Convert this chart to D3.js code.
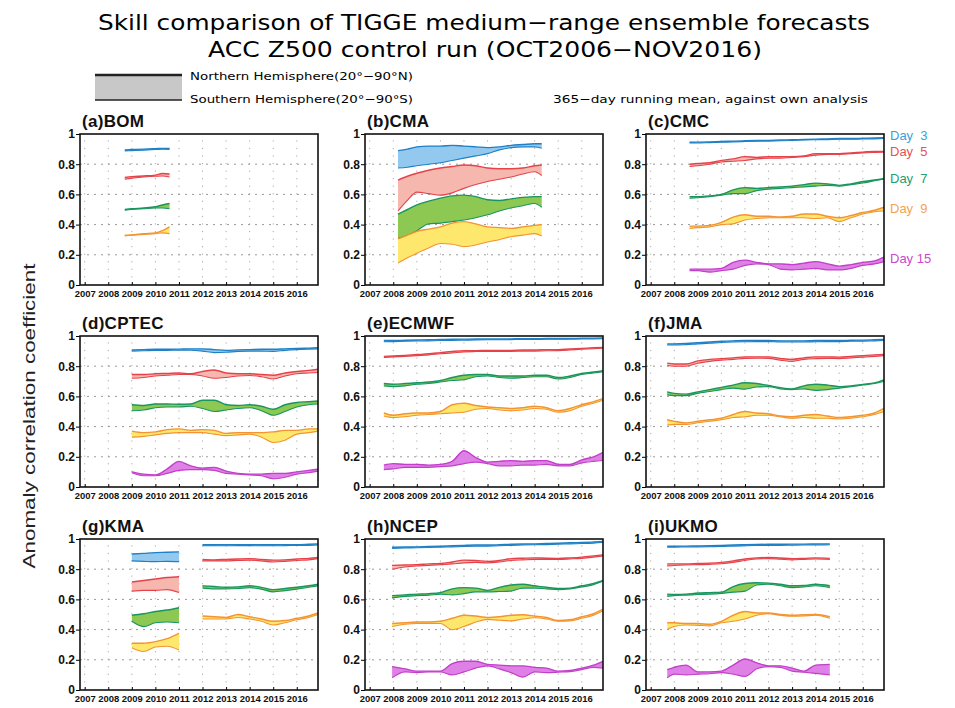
<!DOCTYPE html>
<html>
<head>
<meta charset="utf-8">
<script src="https://cdn.jsdelivr.net/npm/d3@7"></script>
<style>
body { margin: 0; background: #fff; }
</style>
</head>
<body>
<div id="chart"></div>
<script>

// ---- data (decimal years / ACC values) ----

var years = [2007, 2008, 2009, 2010, 2011, 2012, 2013, 2014, 2015, 2016];
var yTicks = [0, 0.2, 0.4, 0.6, 0.8, 1];
var dayList = [3, 5, 7, 9, 15];

var bomTimes = [2008.7, 2009.0, 2009.5, 2010.0, 2010.3, 2010.6];
var bomNH = [
	[0.895, 0.897, 0.900, 0.903, 0.905, 0.905],
	[0.712, 0.718, 0.722, 0.728, 0.738, 0.735],
	[0.500, 0.505, 0.510, 0.518, 0.530, 0.540],
	[0.330, 0.332, 0.340, 0.345, 0.360, 0.385]
];
var bomSH = [
	[0.888, 0.890, 0.893, 0.897, 0.900, 0.898],
	[0.700, 0.708, 0.715, 0.720, 0.722, 0.715],
	[0.495, 0.500, 0.505, 0.510, 0.510, 0.505],
	[0.325, 0.330, 0.335, 0.340, 0.345, 0.340]
];

var cmaTimes = [2008.2, 2008.6, 2009.0, 2009.5, 2010.0, 2010.5, 2011.0, 2011.5, 2012.0, 2012.5, 2013.0, 2013.5, 2014.0, 2014.3];
var cmaNH = [
	[0.890, 0.900, 0.915, 0.920, 0.920, 0.925, 0.920, 0.915, 0.910, 0.915, 0.925, 0.930, 0.935, 0.935],
	[0.695, 0.720, 0.740, 0.760, 0.775, 0.785, 0.795, 0.790, 0.775, 0.770, 0.770, 0.775, 0.790, 0.795],
	[0.470, 0.500, 0.530, 0.555, 0.575, 0.590, 0.595, 0.585, 0.565, 0.560, 0.570, 0.580, 0.585, 0.585],
	[0.305, 0.330, 0.355, 0.370, 0.385, 0.410, 0.420, 0.405, 0.385, 0.380, 0.375, 0.385, 0.395, 0.400]
];
var cmaSH = [
	[0.775, 0.780, 0.790, 0.800, 0.810, 0.825, 0.840, 0.855, 0.870, 0.895, 0.910, 0.915, 0.915, 0.905],
	[0.490, 0.560, 0.615, 0.605, 0.595, 0.610, 0.640, 0.665, 0.685, 0.700, 0.715, 0.735, 0.750, 0.725],
	[0.310, 0.330, 0.360, 0.405, 0.410, 0.420, 0.430, 0.445, 0.465, 0.490, 0.510, 0.525, 0.540, 0.515],
	[0.145, 0.180, 0.210, 0.245, 0.275, 0.270, 0.255, 0.265, 0.285, 0.300, 0.320, 0.330, 0.340, 0.325]
];

var cmcTimes = [2008.65, 2009.0, 2009.5, 2010.0, 2010.5, 2011.0, 2011.5, 2012.0, 2012.5, 2013.0, 2013.5, 2014.0, 2014.5, 2015.0, 2015.5, 2016.0, 2016.5, 2016.9];
var cmcNH = [
	[0.945, 0.946, 0.948, 0.950, 0.953, 0.955, 0.957, 0.958, 0.960, 0.962, 0.964, 0.966, 0.968, 0.970, 0.970, 0.972, 0.974, 0.975],
	[0.800, 0.805, 0.810, 0.825, 0.835, 0.850, 0.845, 0.850, 0.850, 0.850, 0.855, 0.870, 0.870, 0.870, 0.875, 0.880, 0.885, 0.885],
	[0.585, 0.585, 0.590, 0.600, 0.630, 0.645, 0.640, 0.645, 0.650, 0.655, 0.665, 0.675, 0.670, 0.660, 0.670, 0.685, 0.695, 0.705],
	[0.390, 0.390, 0.395, 0.415, 0.450, 0.465, 0.455, 0.455, 0.450, 0.455, 0.470, 0.470, 0.455, 0.445, 0.460, 0.480, 0.495, 0.515],
	[0.105, 0.105, 0.105, 0.110, 0.150, 0.165, 0.150, 0.140, 0.140, 0.135, 0.145, 0.155, 0.140, 0.125, 0.135, 0.150, 0.160, 0.185]
];
var cmcSH = [
	[0.940, 0.940, 0.943, 0.945, 0.948, 0.950, 0.952, 0.953, 0.955, 0.957, 0.960, 0.962, 0.963, 0.965, 0.965, 0.967, 0.968, 0.970],
	[0.785, 0.790, 0.800, 0.815, 0.820, 0.825, 0.835, 0.840, 0.840, 0.845, 0.850, 0.860, 0.865, 0.865, 0.870, 0.875, 0.878, 0.880],
	[0.575, 0.578, 0.585, 0.595, 0.605, 0.605, 0.625, 0.635, 0.640, 0.645, 0.650, 0.655, 0.660, 0.655, 0.665, 0.675, 0.690, 0.700],
	[0.375, 0.380, 0.385, 0.400, 0.405, 0.430, 0.440, 0.445, 0.445, 0.445, 0.445, 0.440, 0.445, 0.420, 0.445, 0.470, 0.485, 0.490],
	[0.095, 0.095, 0.085, 0.095, 0.105, 0.130, 0.140, 0.135, 0.105, 0.100, 0.105, 0.110, 0.100, 0.100, 0.110, 0.130, 0.140, 0.155]
];

var cptecTimes = [2009.0, 2009.5, 2010.0, 2010.5, 2011.0, 2011.5, 2012.0, 2012.5, 2013.0, 2013.5, 2014.0, 2014.5, 2015.0, 2015.5, 2016.0, 2016.5, 2016.9];
var cptecNH = [
	[0.908, 0.910, 0.912, 0.912, 0.913, 0.915, 0.915, 0.910, 0.905, 0.908, 0.910, 0.912, 0.912, 0.915, 0.918, 0.920, 0.922],
	[0.745, 0.745, 0.750, 0.752, 0.755, 0.750, 0.765, 0.775, 0.755, 0.750, 0.750, 0.745, 0.740, 0.755, 0.765, 0.772, 0.780],
	[0.545, 0.540, 0.550, 0.550, 0.548, 0.550, 0.575, 0.575, 0.545, 0.540, 0.545, 0.535, 0.515, 0.545, 0.560, 0.565, 0.570],
	[0.370, 0.360, 0.365, 0.380, 0.385, 0.375, 0.380, 0.375, 0.355, 0.360, 0.360, 0.360, 0.365, 0.375, 0.375, 0.385, 0.385],
	[0.100, 0.085, 0.080, 0.120, 0.170, 0.140, 0.125, 0.130, 0.105, 0.090, 0.085, 0.085, 0.090, 0.090, 0.100, 0.110, 0.118]
];
var cptecSH = [
	[0.900, 0.902, 0.905, 0.905, 0.906, 0.906, 0.900, 0.890, 0.892, 0.898, 0.900, 0.900, 0.898, 0.905, 0.910, 0.913, 0.915],
	[0.720, 0.725, 0.735, 0.740, 0.745, 0.745, 0.735, 0.720, 0.725, 0.735, 0.738, 0.730, 0.715, 0.735, 0.750, 0.755, 0.758],
	[0.505, 0.510, 0.525, 0.530, 0.530, 0.535, 0.520, 0.500, 0.510, 0.520, 0.525, 0.505, 0.475, 0.500, 0.530, 0.545, 0.550],
	[0.330, 0.335, 0.345, 0.355, 0.360, 0.360, 0.360, 0.350, 0.340, 0.345, 0.350, 0.330, 0.295, 0.310, 0.350, 0.360, 0.370],
	[0.095, 0.075, 0.075, 0.090, 0.110, 0.115, 0.115, 0.110, 0.090, 0.085, 0.080, 0.075, 0.055, 0.065, 0.085, 0.095, 0.105]
];

var ecmwfTimes = [2007.6, 2008.0, 2008.5, 2009.0, 2009.5, 2010.0, 2010.5, 2011.0, 2011.5, 2012.0, 2012.5, 2013.0, 2013.5, 2014.0, 2014.5, 2015.0, 2015.5, 2016.0, 2016.5, 2016.9];
var ecmwfNH = [
	[0.970, 0.970, 0.972, 0.974, 0.975, 0.977, 0.978, 0.979, 0.980, 0.980, 0.980, 0.981, 0.982, 0.982, 0.983, 0.983, 0.984, 0.985, 0.986, 0.987],
	[0.865, 0.868, 0.872, 0.877, 0.882, 0.890, 0.898, 0.903, 0.903, 0.905, 0.905, 0.905, 0.907, 0.907, 0.910, 0.910, 0.914, 0.918, 0.922, 0.925],
	[0.685, 0.680, 0.685, 0.690, 0.695, 0.705, 0.725, 0.740, 0.745, 0.745, 0.735, 0.735, 0.735, 0.740, 0.740, 0.725, 0.735, 0.752, 0.762, 0.770],
	[0.490, 0.475, 0.485, 0.490, 0.490, 0.500, 0.545, 0.555, 0.540, 0.530, 0.525, 0.520, 0.525, 0.535, 0.525, 0.505, 0.520, 0.545, 0.565, 0.585],
	[0.145, 0.155, 0.150, 0.150, 0.145, 0.150, 0.170, 0.240, 0.195, 0.165, 0.170, 0.175, 0.170, 0.175, 0.175, 0.150, 0.150, 0.180, 0.200, 0.230]
];
var ecmwfSH = [
	[0.962, 0.963, 0.965, 0.967, 0.968, 0.970, 0.971, 0.972, 0.974, 0.975, 0.975, 0.976, 0.977, 0.977, 0.978, 0.978, 0.979, 0.980, 0.981, 0.982],
	[0.858, 0.862, 0.865, 0.870, 0.875, 0.882, 0.888, 0.895, 0.897, 0.898, 0.898, 0.898, 0.900, 0.900, 0.902, 0.903, 0.907, 0.912, 0.916, 0.920],
	[0.670, 0.665, 0.670, 0.680, 0.685, 0.695, 0.705, 0.710, 0.730, 0.735, 0.725, 0.720, 0.725, 0.730, 0.730, 0.715, 0.725, 0.745, 0.755, 0.763],
	[0.470, 0.460, 0.465, 0.475, 0.480, 0.485, 0.490, 0.495, 0.515, 0.520, 0.510, 0.505, 0.510, 0.520, 0.515, 0.495, 0.505, 0.535, 0.555, 0.575],
	[0.115, 0.120, 0.130, 0.130, 0.130, 0.135, 0.140, 0.155, 0.165, 0.155, 0.140, 0.140, 0.145, 0.145, 0.150, 0.140, 0.140, 0.160, 0.170, 0.175]
];

var jmaTimes = [2007.7, 2008.0, 2008.5, 2009.0, 2009.5, 2010.0, 2010.5, 2011.0, 2011.5, 2012.0, 2012.5, 2013.0, 2013.5, 2014.0, 2014.5, 2015.0, 2015.5, 2016.0, 2016.5, 2016.9];
var jmaNH = [
	[0.948, 0.948, 0.950, 0.955, 0.960, 0.965, 0.968, 0.970, 0.970, 0.970, 0.968, 0.968, 0.968, 0.970, 0.970, 0.970, 0.972, 0.973, 0.975, 0.977],
	[0.820, 0.815, 0.815, 0.835, 0.845, 0.850, 0.855, 0.862, 0.862, 0.862, 0.852, 0.845, 0.855, 0.862, 0.862, 0.860, 0.865, 0.870, 0.875, 0.878],
	[0.630, 0.620, 0.615, 0.630, 0.645, 0.660, 0.675, 0.690, 0.685, 0.672, 0.658, 0.650, 0.670, 0.680, 0.675, 0.665, 0.670, 0.680, 0.690, 0.710],
	[0.445, 0.435, 0.425, 0.435, 0.445, 0.455, 0.480, 0.500, 0.490, 0.485, 0.470, 0.465, 0.475, 0.480, 0.470, 0.460, 0.465, 0.475, 0.490, 0.520]
];
var jmaSH = [
	[0.940, 0.940, 0.943, 0.948, 0.952, 0.957, 0.960, 0.962, 0.963, 0.963, 0.960, 0.960, 0.960, 0.962, 0.963, 0.963, 0.965, 0.966, 0.968, 0.970],
	[0.805, 0.800, 0.800, 0.820, 0.832, 0.840, 0.845, 0.852, 0.853, 0.852, 0.840, 0.832, 0.845, 0.850, 0.852, 0.850, 0.855, 0.860, 0.865, 0.870],
	[0.610, 0.605, 0.605, 0.620, 0.632, 0.645, 0.655, 0.648, 0.662, 0.665, 0.650, 0.645, 0.650, 0.640, 0.645, 0.655, 0.665, 0.675, 0.685, 0.700],
	[0.410, 0.415, 0.415, 0.425, 0.435, 0.445, 0.460, 0.465, 0.475, 0.475, 0.465, 0.455, 0.460, 0.455, 0.455, 0.450, 0.455, 0.465, 0.480, 0.500]
];

// KMA has a gap in 2011-2012 (null = no data)
var kmaTimes = [2009.0, 2009.5, 2010.0, 2010.5, 2011.0, 2011.5, 2012.0, 2012.5, 2013.0, 2013.5, 2014.0, 2014.5, 2015.0, 2015.5, 2016.0, 2016.5, 2016.9];
var kmaNH = [
	[0.900, 0.905, 0.910, 0.912, 0.915, null, 0.962, 0.962, 0.963, 0.963, 0.963, 0.962, 0.962, 0.963, 0.963, 0.965, 0.967],
	[0.715, 0.725, 0.735, 0.745, 0.750, null, 0.865, 0.862, 0.865, 0.868, 0.870, 0.865, 0.860, 0.862, 0.868, 0.872, 0.878],
	[0.495, 0.505, 0.520, 0.530, 0.545, null, 0.690, 0.685, 0.680, 0.683, 0.690, 0.680, 0.665, 0.672, 0.680, 0.690, 0.700],
	[0.310, 0.310, 0.320, 0.340, 0.375, null, 0.490, 0.485, 0.480, 0.500, 0.485, 0.470, 0.455, 0.460, 0.475, 0.490, 0.510]
];
var kmaSH = [
	[0.855, 0.852, 0.850, 0.852, 0.850, null, 0.955, 0.955, 0.955, 0.956, 0.956, 0.955, 0.955, 0.956, 0.957, 0.958, 0.960],
	[0.655, 0.660, 0.660, 0.665, 0.645, null, 0.855, 0.855, 0.855, 0.858, 0.860, 0.855, 0.848, 0.852, 0.858, 0.862, 0.870],
	[0.455, 0.420, 0.445, 0.450, 0.445, null, 0.675, 0.670, 0.670, 0.672, 0.678, 0.668, 0.650, 0.658, 0.668, 0.680, 0.690],
	[0.280, 0.255, 0.285, 0.290, 0.265, null, 0.470, 0.470, 0.470, 0.480, 0.470, 0.455, 0.430, 0.445, 0.465, 0.480, 0.500]
];

var ncepTimes = [2007.95, 2008.5, 2009.0, 2009.5, 2010.0, 2010.5, 2011.0, 2011.5, 2012.0, 2012.5, 2013.0, 2013.5, 2014.0, 2014.5, 2015.0, 2015.5, 2016.0, 2016.5, 2016.9];
var ncepNH = [
	[0.945, 0.947, 0.948, 0.950, 0.952, 0.955, 0.958, 0.960, 0.960, 0.962, 0.965, 0.967, 0.968, 0.970, 0.972, 0.975, 0.977, 0.980, 0.983],
	[0.825, 0.828, 0.830, 0.835, 0.838, 0.848, 0.860, 0.858, 0.852, 0.858, 0.870, 0.873, 0.875, 0.873, 0.872, 0.875, 0.880, 0.888, 0.895],
	[0.625, 0.630, 0.635, 0.638, 0.645, 0.670, 0.678, 0.675, 0.660, 0.680, 0.695, 0.700, 0.690, 0.680, 0.672, 0.675, 0.690, 0.705, 0.725],
	[0.440, 0.445, 0.450, 0.450, 0.455, 0.475, 0.495, 0.490, 0.480, 0.485, 0.495, 0.498, 0.490, 0.480, 0.460, 0.465, 0.485, 0.505, 0.535],
	[0.155, 0.140, 0.125, 0.125, 0.125, 0.175, 0.190, 0.190, 0.170, 0.165, 0.160, 0.160, 0.150, 0.145, 0.125, 0.130, 0.145, 0.165, 0.190]
];
var ncepSH = [
	[0.938, 0.940, 0.942, 0.944, 0.946, 0.948, 0.950, 0.952, 0.953, 0.955, 0.958, 0.960, 0.962, 0.963, 0.965, 0.968, 0.970, 0.973, 0.977],
	[0.800, 0.815, 0.822, 0.825, 0.830, 0.835, 0.842, 0.845, 0.842, 0.848, 0.858, 0.862, 0.865, 0.865, 0.865, 0.868, 0.872, 0.880, 0.888],
	[0.610, 0.620, 0.625, 0.628, 0.635, 0.630, 0.638, 0.650, 0.650, 0.652, 0.655, 0.675, 0.675, 0.670, 0.665, 0.670, 0.682, 0.698, 0.720],
	[0.420, 0.435, 0.440, 0.440, 0.440, 0.400, 0.420, 0.450, 0.468, 0.462, 0.458, 0.470, 0.478, 0.470, 0.455, 0.458, 0.475, 0.495, 0.525],
	[0.080, 0.120, 0.115, 0.120, 0.120, 0.100, 0.120, 0.145, 0.160, 0.140, 0.115, 0.085, 0.120, 0.115, 0.118, 0.122, 0.135, 0.150, 0.145]
];

var ukmoTimes = [2007.7, 2008.0, 2008.5, 2009.0, 2009.5, 2010.0, 2010.5, 2011.0, 2011.5, 2012.0, 2012.5, 2013.0, 2013.5, 2014.0, 2014.6];
var ukmoNH = [
	[0.952, 0.952, 0.953, 0.954, 0.955, 0.957, 0.960, 0.962, 0.964, 0.965, 0.965, 0.966, 0.966, 0.967, 0.968],
	[0.835, 0.835, 0.835, 0.838, 0.840, 0.845, 0.855, 0.868, 0.875, 0.878, 0.874, 0.870, 0.872, 0.875, 0.872],
	[0.635, 0.632, 0.635, 0.642, 0.645, 0.648, 0.685, 0.705, 0.710, 0.708, 0.700, 0.690, 0.692, 0.700, 0.690],
	[0.445, 0.445, 0.440, 0.440, 0.435, 0.455, 0.495, 0.520, 0.510, 0.510, 0.500, 0.495, 0.498, 0.500, 0.485],
	[0.135, 0.150, 0.165, 0.120, 0.120, 0.125, 0.165, 0.205, 0.180, 0.160, 0.160, 0.145, 0.125, 0.165, 0.170]
];
var ukmoSH = [
	[0.946, 0.946, 0.947, 0.948, 0.949, 0.950, 0.953, 0.955, 0.957, 0.958, 0.958, 0.959, 0.960, 0.960, 0.962],
	[0.822, 0.825, 0.828, 0.830, 0.832, 0.836, 0.845, 0.858, 0.868, 0.870, 0.866, 0.862, 0.865, 0.868, 0.865],
	[0.620, 0.625, 0.628, 0.632, 0.635, 0.640, 0.648, 0.655, 0.695, 0.700, 0.690, 0.678, 0.682, 0.690, 0.678],
	[0.400, 0.420, 0.430, 0.428, 0.425, 0.445, 0.455, 0.470, 0.495, 0.505, 0.495, 0.488, 0.490, 0.495, 0.475],
	[0.080, 0.105, 0.100, 0.105, 0.108, 0.115, 0.105, 0.090, 0.140, 0.155, 0.150, 0.125, 0.118, 0.110, 0.100]
];

// ---- layout ----

var width = 955;
var height = 708;
var panelW = 238;
var panelH = 151;
var colX = [80, 365, 646];
var rowY = [134, 336, 539];

var panels = [
	{ title: "(a)BOM",   times: bomTimes,   nh: bomNH,   sh: bomSH,   days: [3, 5, 7, 9] },
	{ title: "(b)CMA",   times: cmaTimes,   nh: cmaNH,   sh: cmaSH,   days: [3, 5, 7, 9] },
	{ title: "(c)CMC",   times: cmcTimes,   nh: cmcNH,   sh: cmcSH,   days: [3, 5, 7, 9, 15] },
	{ title: "(d)CPTEC", times: cptecTimes, nh: cptecNH, sh: cptecSH, days: [3, 5, 7, 9, 15] },
	{ title: "(e)ECMWF", times: ecmwfTimes, nh: ecmwfNH, sh: ecmwfSH, days: [3, 5, 7, 9, 15] },
	{ title: "(f)JMA",   times: jmaTimes,   nh: jmaNH,   sh: jmaSH,   days: [3, 5, 7, 9] },
	{ title: "(g)KMA",   times: kmaTimes,   nh: kmaNH,   sh: kmaSH,   days: [3, 5, 7, 9] },
	{ title: "(h)NCEP",  times: ncepTimes,  nh: ncepNH,  sh: ncepSH,  days: [3, 5, 7, 9, 15] },
	{ title: "(i)UKMO",  times: ukmoTimes,  nh: ukmoNH,  sh: ukmoSH,  days: [3, 5, 7, 9, 15] }
];

var lineColor = d3.scaleOrdinal().domain(dayList)
	.range(["#1f80c6", "#e6424a", "#19955e", "#f39331", "#c23fc9"]);
var fillColor = d3.scaleOrdinal().domain(dayList)
	.range(["#93c9ee", "#f5b7ae", "#8dc853", "#fde76d", "#df80e6"]);
var labelColor = d3.scaleOrdinal().domain(dayList)
	.range(["#3a9fda", "#e65252", "#22a06e", "#f4a24e", "#cc48cc"]);

var xScale = d3.scaleLinear().domain([2006.8, 2016.9]).range([0, panelW]);
var yScale = d3.scaleLinear().domain([0, 1]).range([panelH, 0]);

var svg = d3.select("#chart")
	.append("svg")
	.attr("width", width)
	.attr("height", height)
	.style("font-family", "'Liberation Sans', Arial, sans-serif");

// titles
svg.append("text")
	.attr("x", 98).attr("y", 30)
	.attr("textLength", 772).attr("lengthAdjust", "spacingAndGlyphs")
	.style("font-family", "'DejaVu Sans', sans-serif")
	.style("font-size", "21px")
	.text("Skill comparison of TIGGE medium\u2212range ensemble forecasts");

svg.append("text")
	.attr("x", 208).attr("y", 57)
	.attr("textLength", 554).attr("lengthAdjust", "spacingAndGlyphs")
	.style("font-family", "'DejaVu Sans', sans-serif")
	.style("font-size", "21px")
	.text("ACC Z500 control run (OCT2006\u2212NOV2016)");

// hemisphere legend
svg.append("rect")
	.attr("x", 95).attr("y", 75).attr("width", 87).attr("height", 25)
	.attr("fill", "#c8c8c8");
svg.append("line")
	.attr("x1", 95).attr("x2", 182).attr("y1", 75).attr("y2", 75)
	.attr("stroke", "#222").attr("stroke-width", 2.6);
svg.append("line")
	.attr("x1", 95).attr("x2", 182).attr("y1", 100).attr("y2", 100)
	.attr("stroke", "#222").attr("stroke-width", 1.6);

svg.append("text")
	.attr("x", 190).attr("y", 80)
	.attr("textLength", 223).attr("lengthAdjust", "spacingAndGlyphs")
	.style("font-family", "'DejaVu Sans', sans-serif")
	.style("font-size", "11px")
	.text("Northern Hemisphere(20\u00b0\u221290\u00b0N)");

svg.append("text")
	.attr("x", 190).attr("y", 103)
	.attr("textLength", 223).attr("lengthAdjust", "spacingAndGlyphs")
	.style("font-family", "'DejaVu Sans', sans-serif")
	.style("font-size", "11px")
	.text("Southern Hemisphere(20\u00b0\u221290\u00b0S)");

svg.append("text")
	.attr("x", 553).attr("y", 103)
	.attr("textLength", 315).attr("lengthAdjust", "spacingAndGlyphs")
	.style("font-family", "'DejaVu Sans', sans-serif")
	.style("font-size", "11px")
	.text("365\u2212day running mean, against own analysis");

// y axis label
svg.append("text")
	.attr("transform", "translate(35,416) rotate(-90)")
	.attr("text-anchor", "middle")
	.attr("textLength", 305).attr("lengthAdjust", "spacingAndGlyphs")
	.style("font-size", "17px")
	.attr("fill", "#222")
	.text("Anomaly correlation coefficient");

// one panel per centre
panels.forEach(function(p, i) {

	var g = svg.append("g")
		.attr("transform", "translate(" + colX[i % 3] + "," + rowY[Math.floor(i / 3)] + ")");

	// dotted grid
	g.selectAll(".vgrid")
		.data(years)
		.enter().append("line")
		.attr("x1", function(d) { return xScale(d); })
		.attr("x2", function(d) { return xScale(d); })
		.attr("y1", panelH).attr("y2", 0)
		.attr("stroke", "#aaa").attr("stroke-width", 1)
		.attr("stroke-dasharray", "1.2,6.35");

	g.selectAll(".hgrid")
		.data([0.2, 0.4, 0.6, 0.8])
		.enter().append("line")
		.attr("x1", 0).attr("x2", panelW)
		.attr("y1", function(d) { return yScale(d); })
		.attr("y2", function(d) { return yScale(d); })
		.attr("stroke", "#999").attr("stroke-width", 1)
		.attr("stroke-dasharray", "2,5");

	// bands between the two hemispheres
	p.days.forEach(function(day, k) {
		var rows = p.times.map(function(t, j) {
			return { t: t, nh: p.nh[k][j], sh: p.sh[k][j] };
		});
		var ok = function(d) { return d.nh != null && d.sh != null; };

		var area = d3.area()
			.defined(ok)
			.x(function(d) { return xScale(d.t); })
			.y0(function(d) { return yScale(d.sh); })
			.y1(function(d) { return yScale(d.nh); })
			.curve(d3.curveMonotoneX);

		var lineNH = d3.line().defined(ok)
			.x(function(d) { return xScale(d.t); })
			.y(function(d) { return yScale(d.nh); })
			.curve(d3.curveMonotoneX);

		var lineSH = d3.line().defined(ok)
			.x(function(d) { return xScale(d.t); })
			.y(function(d) { return yScale(d.sh); })
			.curve(d3.curveMonotoneX);

		g.append("path").datum(rows)
			.attr("d", area)
			.attr("fill", fillColor(day));

		g.append("path").datum(rows)
			.attr("d", lineNH)
			.attr("fill", "none")
			.attr("stroke", lineColor(day)).attr("stroke-width", 1.4);

		g.append("path").datum(rows)
			.attr("d", lineSH)
			.attr("fill", "none")
			.attr("stroke", lineColor(day)).attr("stroke-width", 1.1);

		// day labels only next to the CMC panel (day 3 nudged up so it clears day 5)
		if (i === 2) {
			var last = rows[rows.length - 1];
			g.append("text")
				.attr("x", panelW + 6)
				.attr("y", yScale((last.nh + last.sh) / 2) + 4 - (day === 3 ? 2 : 0))
				.attr("fill", labelColor(day))
				.style("font-size", "13px")
				.style("white-space", "pre")
				.text(day < 10 ? "Day  " + day : "Day " + day);
		}
	});

	// axes
	var yAxis = g.append("g")
		.call(d3.axisLeft(yScale)
			.tickValues(yTicks)
			.tickSize(4)
			.tickPadding(1)
			.tickFormat(function(d) { return d === 0 || d === 1 ? d3.format("d")(d) : d3.format(".1f")(d); }));
	yAxis.select(".domain").remove();
	yAxis.selectAll("text")
		.style("font-size", "12px")
		.style("font-weight", "bold")
		.style("font-family", "'Liberation Sans', Arial, sans-serif")
		.attr("fill", "#111");

	var xAxis = g.append("g")
		.attr("transform", "translate(0," + panelH + ")")
		.call(d3.axisBottom(xScale)
			.tickValues(years)
			.tickSize(-3)
			.tickPadding(6)
			.tickFormat(d3.format("d")));
	xAxis.select(".domain").remove();
	xAxis.selectAll("text")
		.attr("textLength", 21).attr("lengthAdjust", "spacingAndGlyphs")
		.style("font-size", "9px")
		.style("font-weight", "bold")
		.style("font-family", "'Liberation Sans', Arial, sans-serif")
		.attr("fill", "#111");

	// frame
	g.append("rect")
		.attr("width", panelW).attr("height", panelH)
		.attr("fill", "none")
		.attr("stroke", "#111").attr("stroke-width", 1.6);

	// panel title
	g.append("text")
		.attr("x", 2).attr("y", -7)
		.style("font-size", "17px")
		.style("font-weight", "bold")
		.style("letter-spacing", "0.3px")
		.attr("fill", "#111")
		.text(p.title);
});

</script>
</body>
</html>
